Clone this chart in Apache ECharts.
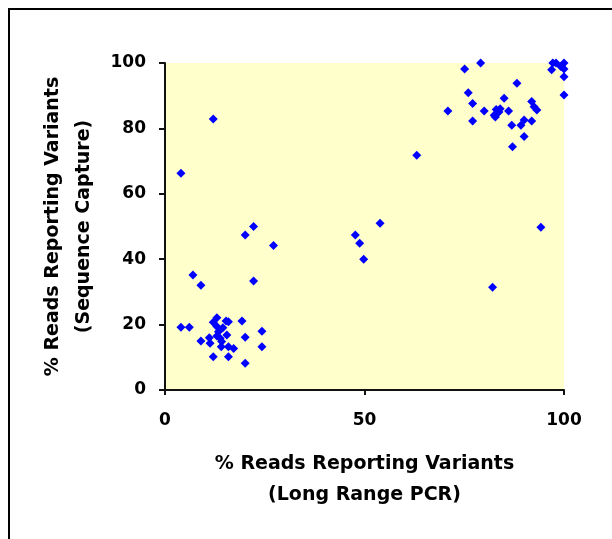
<!DOCTYPE html>
<html>
<head>
<meta charset="utf-8">
<script src="https://cdn.jsdelivr.net/npm/echarts@6/dist/echarts.min.js"></script>
<style>html,body{margin:0;padding:0;background:#fff}#c{width:612px;height:539px}</style>
</head>
<body>
<div id="c"></div>
<script>
// % reads reporting variants: Long Range PCR (x) vs Sequence Capture (y)
var xValues = [13.0,12.1,15.3,15.9,19.3,24.3,20.1,24.3,9.0,11.1,11.3,13.4,13.8,14.1,15.9,17.2,12.1,15.9,20.1,13.0,14.2,15.5,4.0,6.1,13.0,14.5,
  7.0,9.0,22.2,20.1,22.2,27.2,12.1,4.0,
  47.7,48.8,49.8,53.9,63.1,70.9,82.1,94.2,
  75.1,79.1,88.2,76.0,77.1,77.1,80.0,82.5,83.0,83.7,82.8,84.0,85.0,86.1,91.9,92.5,93.2,86.9,89.2,90.0,91.9,90.0,87.1,97.2,98.0,96.9,99.2,100,100,100,100];
var yValues = [22.1,20.7,21.1,20.9,21.1,18.0,16.1,13.2,15.0,16.0,14.3,17.8,15.8,13.2,13.2,12.7,10.2,10.2,8.2,19.4,14.8,16.8,19.2,19.2,16.5,19.0,
  35.2,32.0,33.3,47.4,50.0,44.2,82.9,66.3,
  47.4,44.9,40.0,51.0,71.8,85.3,31.4,49.8,
  98.2,100,93.8,90.9,87.6,82.3,85.3,84.0,85.8,85.0,83.5,86.0,89.2,85.3,88.2,86.6,85.6,81.0,81.0,82.6,82.3,77.5,74.4,100,100,97.9,98.9,100,98.2,95.8,90.2];
var xTicks = [0, 50, 100];
var yTicks = [0, 20, 40, 60, 80, 100];
var xTitle = '% Reads Reporting Variants\n(Long Range PCR)';
var yTitle = '% Reads Reporting Variants\n(Sequence Capture)';

var points = xValues.map(function (x, i) { return [x, yValues[i]]; });

var chart = echarts.init(document.getElementById('c'), null, {renderer: 'canvas'});
var fontFam = '"DejaVu Sans", sans-serif';
chart.setOption({
  animation: false,
  backgroundColor: '#ffffff',
  grid: {left: 165, right: 48, top: 63, bottom: 149, show: true, backgroundColor: '#FFFFCC', borderWidth: 0},
  xAxis: {
    type: 'value', min: xTicks[0], max: xTicks[xTicks.length - 1], interval: 50,
    splitLine: {show: false},
    axisLine: {show: true, onZero: false, lineStyle: {color: '#111', width: 2}},
    axisTick: {show: true, inside: false, length: 5, lineStyle: {color: '#111', width: 2}},
    axisLabel: {margin: 22, color: '#000', fontSize: 17, fontWeight: 'bold', fontFamily: fontFam},
    name: xTitle, nameLocation: 'middle', nameGap: 59,
    nameTextStyle: {color: '#000', fontSize: 19, fontWeight: 'bold', fontFamily: fontFam, lineHeight: 31}
  },
  yAxis: {
    type: 'value', min: yTicks[0], max: yTicks[yTicks.length - 1], interval: 20,
    splitLine: {show: false},
    axisLine: {show: true, onZero: false, lineStyle: {color: '#111', width: 2}},
    axisTick: {show: true, inside: false, length: 6, lineStyle: {color: '#111', width: 2}},
    axisLabel: {margin: 19, color: '#000', fontSize: 17, fontWeight: 'bold', fontFamily: fontFam},
    name: yTitle, nameLocation: 'middle', nameGap: 58, nameRotate: 90,
    nameTextStyle: {color: '#000', fontSize: 19, fontWeight: 'bold', fontFamily: fontFam, lineHeight: 31}
  },
  series: [{
    type: 'scatter', data: points, symbol: 'diamond', symbolSize: 9, clip: false,
    itemStyle: {color: '#0000FF', opacity: 1}
  }],
  graphic: [
    {type: 'line', shape: {x1: 8, y1: 9, x2: 612, y2: 9}, style: {stroke: '#000', lineWidth: 2}},
    {type: 'line', shape: {x1: 9, y1: 8, x2: 9, y2: 539}, style: {stroke: '#000', lineWidth: 2}}
  ]
});
</script>
</body>
</html>
